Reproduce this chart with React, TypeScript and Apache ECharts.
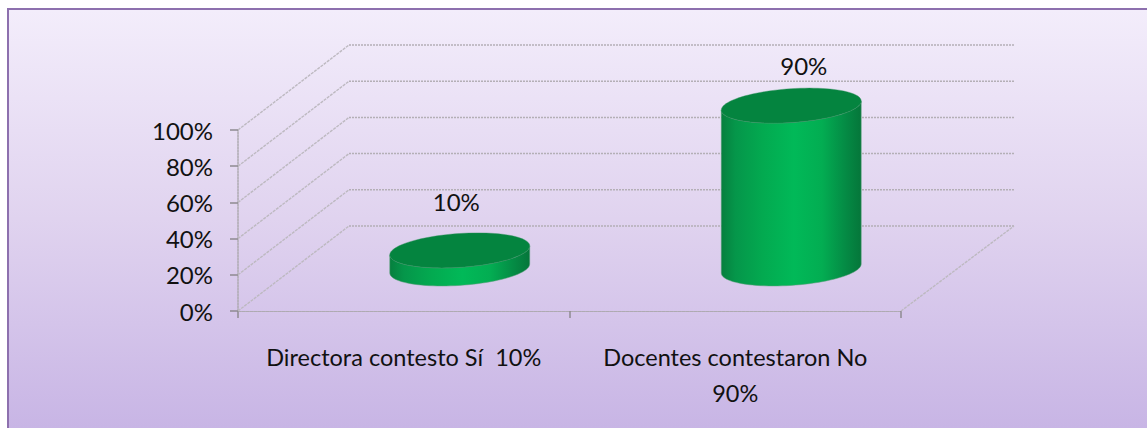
import React, { useEffect, useRef } from "react";
import * as echarts from "echarts";

const categories = ["Directora contesto Sí  10%", "Docentes contestaron No\n90%"];
const seriesValues = [10, 90];
const valueLabels = ["10%", "90%"];
const gridValues = [0, 20, 40, 60, 80, 100];

const W = 1147;
const H = 428;
const DEPTH_X = 111;
const DEPTH_Y = -85;
const BACK_EXTRA = 2;
const RADIUS_BAND = 0.204;
const RADIUS_DEPTH = 0.206;
const ELLIPSE_SHEAR = 18;
const LABEL_NUDGE = [[-3.5, -49], [12.5, -40]];
const FONT = "Lato";
const SIDE_COLOR = {
  type: "linear", x: 0, y: 0, x2: 1, y2: 0,
  colorStops: [
    { offset: 0, color: "#067f3e" },
    { offset: 0.1, color: "#05964a" },
    { offset: 0.3, color: "#03aa50" },
    { offset: 0.52, color: "#01b958" },
    { offset: 0.72, color: "#03ad52" },
    { offset: 0.88, color: "#048c45" },
    { offset: 1, color: "#05763a" },
  ],
};

function ellipsePoints(cx: number, cy: number, a: number, b: number, from: number, to: number, n: number) {
  const pts: number[][] = [];
  for (let i = 0; i <= n; i++) {
    const t = from + ((to - from) * i) / n;
    pts.push([
      cx + a * Math.cos(t) + ELLIPSE_SHEAR * Math.sin(t),
      cy + b * DEPTH_Y * Math.sin(t),
    ]);
  }
  return pts;
}

function renderCylinder(params: any, api: any) {
  const idx = api.value(0);
  const val = api.value(1);
  const base = api.coord([idx, 0]);
  const top = api.coord([idx, val]);
  const band = api.size([1, 0])[0];
  const a = band * RADIUS_BAND;
  const b = RADIUS_DEPTH;
  const cx = base[0] + DEPTH_X / 2 + 0.5;
  const cyBase = base[1] + DEPTH_Y / 2;
  const cyTop = top[1] + DEPTH_Y / 2;
  const t0 = Math.atan2(ELLIPSE_SHEAR, a);
  const front = ellipsePoints(cx, cyBase, a, b, t0, t0 - Math.PI, 48);
  const back = ellipsePoints(cx, cyTop, a, b, t0 - Math.PI, t0, 48);
  const nudge = LABEL_NUDGE[params.dataIndex];
  return {
    type: "group",
    children: [
      {
        type: "polygon",
        shape: { points: front.concat(back) },
        style: { fill: SIDE_COLOR, stroke: "#5f9f7c", lineWidth: 0.5 },
      },
      {
        type: "polygon",
        shape: { points: ellipsePoints(cx, cyTop, a, b, 0, Math.PI * 2, 96) },
        style: { fill: "#04843f", stroke: "#2f8f5c", lineWidth: 0.4 },
      },
      {
        type: "text",
        x: cx + nudge[0],
        y: cyTop + nudge[1],
        style: {
          text: valueLabels[params.dataIndex],
          fill: "#111111",
          font: `24px ${FONT}`,
          align: "center",
          verticalAlign: "middle",
        },
      },
    ],
  };
}

function renderWalls(params: any, api: any) {
  const v = api.value(0);
  const y = api.coord([0, v])[1];
  const { x, width } = params.coordSys;
  const diagonal = { stroke: "#bdb9c0", lineWidth: 1.4, lineDash: [3, 1] };
  const backRight = x + width + DEPTH_X + BACK_EXTRA;
  const children: any[] = [
    {
      type: "line",
      shape: { x1: x, y1: y, x2: x + DEPTH_X, y2: y + DEPTH_Y },
      style: diagonal,
    },
    {
      type: "line",
      shape: { x1: x + DEPTH_X, y1: y + DEPTH_Y, x2: backRight, y2: y + DEPTH_Y },
      style: { stroke: "#b4afb6", lineWidth: 1.5, lineDash: [2, 1] },
    },
  ];
  if (v === 0) {
    children.push({
      type: "line",
      shape: { x1: x + width, y1: y, x2: backRight, y2: y + DEPTH_Y },
      style: diagonal,
    });
  }
  return { type: "group", children };
}

export default function App() {
  const ref = useRef<HTMLDivElement>(null);
  useEffect(() => {
    document.body.style.margin = "0";
    const chart = echarts.init(ref.current!, undefined, { renderer: "svg", width: W, height: H });
    chart.setOption({
      animation: false,
      backgroundColor: "#ffffff",
      textStyle: { fontFamily: FONT },
      graphic: [
        {
          type: "rect", z: -10, silent: true,
          shape: { x: 7, y: 8, width: W - 7, height: H - 8 },
          style: { fill: "#8d70ae" },
        },
        {
          type: "rect", z: -9, silent: true,
          shape: { x: 9, y: 10, width: W - 9, height: H - 10 },
          style: {
            fill: {
              type: "linear", x: 0, y: 0, x2: 0, y2: 1,
              colorStops: [
                { offset: 0, color: "#f3edfb" },
                { offset: 0.5, color: "#e0d3ef" },
                { offset: 1, color: "#c8b5e5" },
              ],
            },
          },
        },
      ],
      grid: { left: 238, top: 130, width: 663, height: 181, containLabel: false },
      xAxis: {
        type: "category",
        data: categories,
        boundaryGap: true,
        axisLine: { show: true, lineStyle: { color: "#aeaab1", type: [3, 1], width: 1.2 } },
        axisTick: { show: true, length: 7, alignWithLabel: false, lineStyle: { color: "#8e8a90", width: 1.5 } },
        axisLabel: {
          interval: 0, margin: 28, color: "#111111", fontSize: 23.5, lineHeight: 36, fontFamily: FONT,
          verticalAlign: "top",
        },
      },
      yAxis: {
        type: "value",
        min: 0,
        max: 100,
        interval: 20,
        splitLine: { show: false },
        axisLine: { show: true, lineStyle: { color: "#aeaab1", type: [2, 1], width: 1.5 } },
        axisTick: { show: true, length: 8, lineStyle: { color: "#8e8a90", width: 1.5 } },
        axisLabel: { formatter: "{value}%", margin: 25, color: "#111111", fontSize: 24, fontFamily: FONT },
      },
      series: [
        {
          type: "custom",
          name: "walls",
          coordinateSystem: "cartesian2d",
          data: gridValues.map((v) => [v]),
          encode: { y: 0 },
          renderItem: renderWalls,
          clip: false,
          silent: true,
          z: 1,
        },
        {
          type: "custom",
          name: "Respuestas",
          coordinateSystem: "cartesian2d",
          data: seriesValues.map((v, i) => [i, v]),
          encode: { x: 0, y: 1 },
          renderItem: renderCylinder,
          clip: false,
          z: 5,
        },
      ],
    });
    return () => chart.dispose();
  }, []);
  return <div ref={ref} style={{ position: "fixed", left: 0, top: 0, width: W, height: H }} />;
}
